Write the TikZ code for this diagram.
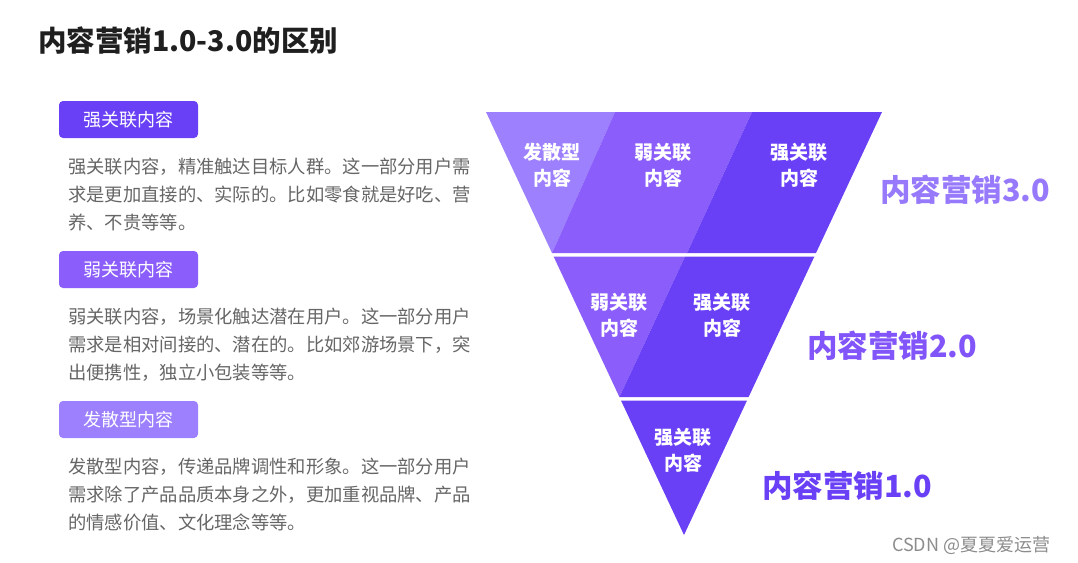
\documentclass[tikz,border=0pt]{standalone}
\usepackage{fontspec}
\setmainfont{Noto Sans CJK SC}
\definecolor{strong}{RGB}{106,64,246}
\definecolor{weak}{RGB}{139,94,251}
\definecolor{spread}{RGB}{156,128,253}
\definecolor{bodygray}{RGB}{102,102,102}
\begin{document}
\begin{tikzpicture}[x=1pt, y=-1pt,
  tagbox/.style={rounded corners=4pt, minimum width=139pt, minimum height=37pt, inner sep=0pt, text=white, font=\fontsize{18}{20}\selectfont},
  body/.style={anchor=west, align=left, inner sep=0pt, text=bodygray, font=\fontsize{18.3}{28}\selectfont},
  cell/.style={align=center, inner sep=0pt, text=white, font=\bfseries\fontsize{19}{26}\selectfont},
  level/.style={anchor=west, inner sep=0pt, font=\bfseries\fontsize{30.5}{32}\selectfont}]
  \fill[white] (0,0) rectangle (1078,562);
  \useasboundingbox (0,0) rectangle (1078,562);
  \node[anchor=west, inner sep=0pt, text=black!88, font=\bfseries\fontsize{28.5}{30}\selectfont] (title) at (38,41) {内容营销1.0-3.0的区别};
  % left column: tags and their text
  \foreach \i/\y/\c/\t in {1/119.5/strong/强关联内容, 2/269.5/weak/弱关联内容, 3/419.5/spread/发散型内容}{
      \node[tagbox, fill=\c] (tag\i) at (128.5,\y) {\t};
  }
  \node[body] (textA) at (68,195) {强关联内容，精准触达目标人群。这一部分用户需\\求是更加直接的、实际的。比如零食就是好吃、营\\养、不贵等等。};
  \node[body] (textB) at (68,345) {弱关联内容，场景化触达潜在用户。这一部分用户\\需求是相对间接的、潜在的。比如郊游场景下，突\\出便携性，独立小包装等等。};
  \node[body] (textC) at (68,495) {发散型内容，传递品牌调性和形象。这一部分用户\\需求除了产品品质本身之外，更加重视品牌、产品\\的情感价值、文化理念等等。};
  % funnel
  \begin{scope}
    % 3.0
    \fill[spread] (486,112) -- (615,112) -- (552,253) -- cycle;
    \fill[weak] (615,112) -- (752,112) -- (687,253) -- (552,253) -- cycle;
    \fill[strong] (752,112) -- (882,112) -- (816,253) -- (687,253) -- cycle;
    % 2.0
    \fill[weak] (553.6,256.5) -- (685,256.5) -- (619.4,397) -- cycle;
    \fill[strong] (685,256.5) -- (814.4,256.5) -- (748.6,397) -- (619.4,397) -- cycle;
    % 1.0
    \fill[strong] (621,400.5) -- (747,400.5) -- (684,535) -- cycle;
  \end{scope}
  \node[cell] (spreadC) at (552,165) {发散型\\内容};
  \node[cell] (weakC) at (663,165) {弱关联\\内容};
  \node[cell] (strongC) at (799,165) {强关联\\内容};
  \node[cell] (weakB) at (619,315) {弱关联\\内容};
  \node[cell] (strongB) at (722,315) {强关联\\内容};
  \node[cell] (strongA) at (683,450) {强关联\\内容};
  \node[level, text=spread!90!strong] (levelC) at (880,190) {内容营销3.0};
  \node[level, text=weak!70!strong] (levelB) at (807,346) {内容营销2.0};
  \node[level, text=strong] (levelA) at (762,486) {内容营销1.0};
  \node[anchor=west, inner sep=0pt, text=black!45, font=\fontsize{18}{20}\selectfont] (mark) at (892,545) {CSDN @夏夏爱运营};
\end{tikzpicture}
\end{document}
